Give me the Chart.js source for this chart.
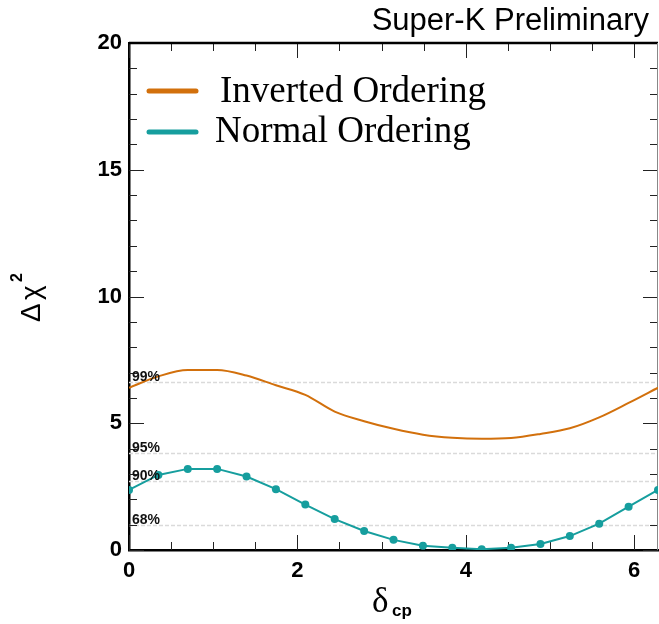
<!DOCTYPE html>
<html><head><meta charset="utf-8">
<script src="https://cdn.jsdelivr.net/npm/chart.js@4/dist/chart.umd.min.js"></script>
<style>html,body{margin:0;padding:0;background:#fff;}#wrap{width:659px;height:624px;}</style>
</head><body><div id="wrap"><canvas id="c" width="659" height="624"></canvas></div>
<script>
// delta_cp grid (radians), 19 points from 0 to 2*pi
const deltaCP = [0,0.349,0.698,1.047,1.396,1.745,2.094,2.443,2.793,3.142,3.491,3.840,4.189,4.538,4.887,5.236,5.585,5.934,6.283];
const invertedOrdering = [6.40,6.85,7.10,7.10,6.88,6.50,6.12,5.46,5.08,4.78,4.55,4.43,4.39,4.42,4.58,4.80,5.23,5.80,6.40];
const normalOrdering   = [2.37,2.96,3.20,3.20,2.90,2.40,1.79,1.22,0.75,0.40,0.17,0.09,0.03,0.09,0.24,0.55,1.04,1.71,2.37];
const clLabels = ["68%","90%","95%","99%"];
const clValues = [1.0,2.71,3.84,6.63];
const xTicks = [0,2,4,6];
const yTicks = [0,5,10,15,20];
const seriesNames = ["Inverted Ordering","Normal Ordering"];

const ORANGE = "#d2700c", TEAL = "#169e9e";
const SANS = "Arial, 'Liberation Sans', sans-serif";
const SERIF = "'Liberation Serif', 'Times New Roman', serif";

const deco = {
  id:'deco',
  beforeDatasetsDraw(chart){
    const {ctx, chartArea:a, scales:{x,y}} = chart;
    ctx.save();
    // confidence lines
    ctx.strokeStyle = "#dadada"; ctx.lineWidth = 1.5; ctx.setLineDash([4,2]);
    clValues.forEach(v=>{ const py=Math.round(y.getPixelForValue(v))+0.5;
      ctx.beginPath(); ctx.moveTo(a.left,py); ctx.lineTo(a.right,py); ctx.stroke(); });
    ctx.setLineDash([]);
    // ticks
    ctx.strokeStyle = "#222"; ctx.lineWidth = 1;
    for(let v=0; v<=6.001; v+=0.5){
      const px = Math.round(x.getPixelForValue(v))+0.5;
      const len = (Math.abs(v%2)<1e-6)?15:8;
      ctx.beginPath(); ctx.moveTo(px,a.bottom); ctx.lineTo(px,a.bottom-len);
      ctx.moveTo(px,a.top); ctx.lineTo(px,a.top+len); ctx.stroke();
    }
    for(let v=0; v<=20; v+=1){
      const py = Math.round(y.getPixelForValue(v))+0.5;
      const len = (v%5===0)?15:8;
      ctx.beginPath(); ctx.moveTo(a.left,py); ctx.lineTo(a.left+len,py);
      ctx.moveTo(a.right,py); ctx.lineTo(a.right-len,py); ctx.stroke();
    }
    // frame top / right
    ctx.strokeStyle="#000"; ctx.lineWidth=2.5;
    ctx.beginPath(); ctx.moveTo(a.left,a.top); ctx.lineTo(a.right,a.top); ctx.stroke();
    ctx.strokeStyle="#888"; ctx.lineWidth=1;
    ctx.beginPath(); ctx.moveTo(a.right-0.5,a.top); ctx.lineTo(a.right-0.5,a.bottom); ctx.stroke();
    ctx.restore();
  },
  afterDatasetsDraw(chart){
    const {ctx, chartArea:a, scales:{x,y}} = chart;
    ctx.save();
    // CL labels
    ctx.fillStyle="#111"; ctx.font="bold 14px "+SANS;
    ctx.textAlign="left"; ctx.textBaseline="alphabetic";
    clValues.forEach((v,i)=>{ ctx.fillText(clLabels[i], a.left+3, y.getPixelForValue(v)-1); });
    // legend
    const items=[[seriesNames[0],ORANGE,91,102,220],[seriesNames[1],TEAL,132,142,215]];
    items.forEach(([t,c,py,by,tx])=>{
      ctx.strokeStyle=c; ctx.lineWidth=5; ctx.lineCap="round";
      ctx.beginPath(); ctx.moveTo(149,py); ctx.lineTo(196,py); ctx.stroke();
      ctx.fillStyle="#000"; ctx.font="37px "+SERIF;
      ctx.textBaseline="alphabetic"; ctx.fillText(t, tx, by);
    });
    // title
    ctx.font="31px "+SANS; ctx.textAlign="right"; ctx.textBaseline="alphabetic";
    ctx.fillText("Super-K Preliminary", 649, 30);
    // x title
    ctx.textAlign="left";
    ctx.font="35px "+SERIF;
    ctx.fillText("δ", 372, 612);
    ctx.font="bold 17px "+SANS;
    ctx.fillText("cp", 392, 616);
    // y title
    ctx.translate(40, 322); ctx.rotate(-Math.PI/2);
    ctx.font="28px "+SANS; ctx.textAlign="left";
    ctx.fillText("Δ", 0, 0);
    ctx.fillText("χ", 22, 0);
    ctx.font="bold 16px "+SANS;
    ctx.fillText("2", 40, -18);
    ctx.restore();
  }
};

new Chart(document.getElementById('c'), {
  type:'line',
  data:{ datasets:[
    { label:seriesNames[0], data:deltaCP.map((d,i)=>({x:d,y:invertedOrdering[i]})),
      borderColor:ORANGE, borderWidth:2, pointRadius:0, cubicInterpolationMode:'monotone', fill:false },
    { label:seriesNames[1], data:deltaCP.map((d,i)=>({x:d,y:normalOrdering[i]})),
      borderColor:TEAL, backgroundColor:TEAL, borderWidth:2, pointRadius:4, pointBorderWidth:0, tension:0, fill:false }
  ]},
  options:{
    responsive:false, animation:false, devicePixelRatio:1,
    layout:{autoPadding:false, padding:{left:0,top:43,right:1,bottom:0}},
    plugins:{legend:{display:false}, tooltip:{enabled:false}},
    scales:{
      x:{ type:'linear', min:0, max:2*Math.PI,
        afterBuildTicks:s=>{ s.ticks = xTicks.map(v=>({value:v})); },
        afterFit:s=>{ s.height = 74; s.paddingRight = 0; s.paddingLeft = 0; },
        grid:{display:false, drawTicks:false},
        border:{display:true, color:'#000', width:2.5},
        ticks:{ color:'#000', padding:8, maxRotation:0, font:{family:SANS, size:22, weight:'bold'}, callback:v=>String(v) } },
      y:{ type:'linear', min:0, max:20,
        afterBuildTicks:s=>{ s.ticks = yTicks.map(v=>({value:v})); },
        afterFit:s=>{ s.width = 129; s.paddingTop = 0; s.paddingBottom = 0; },
        grid:{display:false, drawTicks:false},
        border:{display:true, color:'#000', width:2.5},
        ticks:{ color:'#000', padding:7, font:{family:SANS, size:22, weight:'bold'}, callback:v=>String(v) } }
    }
  },
  plugins:[deco]
});
</script></body></html>
